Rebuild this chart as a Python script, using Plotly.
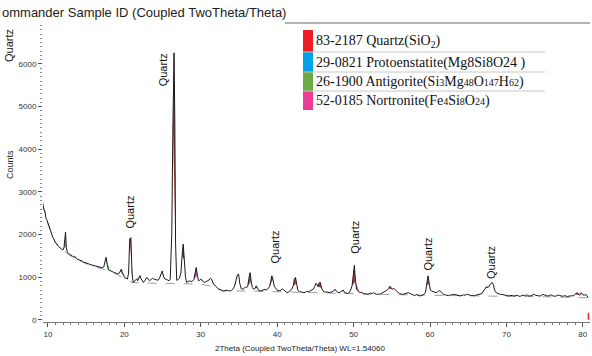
import plotly.graph_objects as go

# ---------------- data ----------------
two_theta = [
    9.3, 9.45, 9.6, 9.75, 9.9, 10.05, 10.2, 10.35, 10.5, 10.65, 10.8, 10.95, 11.1, 11.25, 11.4, 11.6, 11.8, 11.95,
    12.1, 12.2, 12.3, 12.4, 12.55, 12.7, 12.85, 13.0, 13.2, 13.4, 13.55, 13.7, 13.9, 14.1, 14.3, 14.5, 14.7, 14.9,
    15.1, 15.3, 15.5, 15.7, 15.9, 16.1, 16.3, 16.5, 16.7, 16.9, 17.1, 17.3, 17.45, 17.6, 17.75, 17.9, 18.1, 18.3,
    18.5, 18.7, 18.9, 19.1, 19.3, 19.45, 19.6, 19.75, 19.9, 20.05, 20.2, 20.4, 20.55, 20.7, 20.85, 21.0, 21.15, 21.3,
    21.45, 21.6, 21.75, 21.9, 22.05, 22.2, 22.35, 22.5, 22.65, 22.8, 22.95, 23.1, 23.3, 23.5, 23.7, 23.85, 24.0, 24.2,
    24.4, 24.6, 24.8, 24.95, 25.1, 25.3, 25.5, 25.7, 25.85, 26.0, 26.2, 26.35, 26.5, 26.6, 26.7, 26.85, 27.0, 27.2,
    27.4, 27.55, 27.7, 27.85, 28.0, 28.15, 28.3, 28.5, 28.7, 28.9, 29.1, 29.25, 29.4, 29.55, 29.7, 29.85, 30.0, 30.15,
    30.3, 30.5, 30.7, 30.9, 31.1, 31.25, 31.4, 31.55, 31.7, 31.85, 32.0, 32.2, 32.4, 32.6, 32.8, 33.0, 33.2, 33.4,
    33.6, 33.8, 34.0, 34.2, 34.4, 34.6, 34.8, 34.95, 35.1, 35.3, 35.5, 35.7, 35.85, 36.0, 36.15, 36.3, 36.45, 36.6,
    36.75, 36.9, 37.1, 37.25, 37.4, 37.6, 37.8, 38.0, 38.2, 38.4, 38.6, 38.8, 39.0, 39.15, 39.3, 39.45, 39.6, 39.75,
    39.9, 40.1, 40.3, 40.5, 40.7, 40.9, 41.1, 41.3, 41.5, 41.7, 41.9, 42.1, 42.25, 42.4, 42.55, 42.7, 42.9, 43.1,
    43.3, 43.5, 43.7, 43.9, 44.1, 44.3, 44.5, 44.7, 44.9, 45.05, 45.2, 45.35, 45.5, 45.65, 45.8, 46.0, 46.2, 46.4,
    46.6, 46.8, 47.0, 47.2, 47.4, 47.55, 47.7, 47.9, 48.1, 48.3, 48.5, 48.65, 48.8, 49.0, 49.2, 49.4, 49.6, 49.8,
    49.95, 50.1, 50.25, 50.4, 50.6, 50.8, 51.0, 51.2, 51.4, 51.6, 51.8, 52.0, 52.2, 52.4, 52.6, 52.8, 53.0, 53.2,
    53.4, 53.6, 53.8, 54.0, 54.2, 54.4, 54.6, 54.75, 54.9, 55.05, 55.2, 55.4, 55.6, 55.8, 56.0, 56.2, 56.4, 56.6,
    56.8, 57.0, 57.2, 57.4, 57.6, 57.8, 58.0, 58.2, 58.4, 58.6, 58.8, 59.0, 59.2, 59.4, 59.55, 59.75, 59.9, 60.05,
    60.2, 60.4, 60.6, 60.8, 61.0, 61.2, 61.4, 61.6, 61.8, 62.0, 62.2, 62.4, 62.6, 62.8, 63.0, 63.2, 63.4, 63.6,
    63.8, 64.0, 64.2, 64.4, 64.6, 64.8, 65.0, 65.2, 65.4, 65.6, 65.8, 66.0, 66.2, 66.4, 66.6, 66.8, 67.0, 67.2,
    67.4, 67.6, 67.8, 68.0, 68.15, 68.3, 68.45, 68.6, 68.8, 69.0, 69.2, 69.4, 69.6, 69.8, 70.0, 70.2, 70.4, 70.6,
    70.8, 71.0, 71.2, 71.4, 71.6, 71.8, 72.0, 72.2, 72.4, 72.6, 72.8, 73.0, 73.2, 73.4, 73.6, 73.8, 74.0, 74.2,
    74.4, 74.6, 74.8, 75.0, 75.2, 75.4, 75.6, 75.8, 76.0, 76.2, 76.4, 76.6, 76.8, 77.0, 77.2, 77.4, 77.6, 77.8,
    78.0, 78.2, 78.4, 78.6, 78.8, 79.0, 79.2, 79.4, 79.6, 79.8, 80.0, 80.2, 80.4, 80.7,
]
counts = [
    2750, 2600, 2550, 2380, 2330, 2250, 2180, 2060, 2010, 1930, 1890, 1820, 1800, 1740, 1720, 1690, 1650, 1640,
    1700, 1980, 2060, 1700, 1580, 1560, 1540, 1520, 1500, 1470, 1490, 1440, 1420, 1410, 1390, 1380, 1350, 1345,
    1330, 1320, 1300, 1290, 1280, 1270, 1255, 1250, 1230, 1220, 1225, 1240, 1340, 1470, 1300, 1180, 1160, 1140,
    1120, 1110, 1100, 1080, 1090, 1150, 1190, 1110, 1030, 990, 980, 960, 1100, 1900, 1930, 1100, 880, 900,
    930, 960, 920, 990, 1040, 960, 900, 880, 920, 980, 1000, 960, 920, 950, 980, 960, 950, 955,
    930, 980, 1060, 1150, 1030, 960, 950, 930, 920, 960, 2000, 4500, 6260, 4700, 1800, 930, 940, 980,
    1100, 1500, 1780, 1400, 1000, 880, 900, 920, 900, 910, 950, 1100, 1230, 1050, 920, 930, 955, 940,
    900, 880, 910, 920, 940, 980, 960, 870, 830, 815, 780, 740, 720, 700, 690, 680, 690, 700,
    690, 680, 690, 720, 780, 900, 1060, 1075, 860, 730, 720, 750, 770, 760, 800, 980, 1110, 900,
    760, 720, 740, 800, 760, 690, 680, 700, 710, 720, 700, 730, 780, 900, 1035, 950, 800, 760,
    720, 680, 690, 700, 730, 700, 660, 640, 660, 690, 720, 800, 960, 995, 850, 700, 670, 660,
    650, 640, 650, 670, 660, 680, 690, 720, 780, 860, 840, 780, 870, 880, 750, 680, 660, 650,
    660, 640, 650, 660, 690, 720, 690, 650, 640, 660, 690, 700, 650, 630, 620, 640, 700, 800,
    1100, 1280, 900, 720, 680, 640, 650, 620, 610, 620, 600, 610, 630, 620, 640, 620, 600, 610,
    600, 620, 640, 650, 680, 700, 740, 790, 760, 720, 740, 720, 680, 640, 620, 610, 600, 610,
    620, 630, 640, 620, 600, 580, 570, 600, 580, 570, 565, 580, 600, 640, 800, 1035, 850, 700,
    680, 660, 650, 640, 660, 690, 670, 620, 600, 590, 580, 570, 580, 590, 585, 600, 590, 575,
    570, 565, 575, 590, 580, 600, 595, 580, 570, 575, 565, 580, 590, 600, 610, 620, 680, 740,
    780, 760, 820, 860, 880, 830, 700, 650, 630, 610, 600, 600, 590, 580, 575, 565, 570, 580,
    575, 560, 570, 580, 560, 555, 570, 580, 570, 590, 575, 560, 570, 590, 600, 580, 570, 575,
    560, 580, 600, 585, 570, 560, 575, 590, 570, 560, 555, 570, 585, 570, 560, 555, 570, 560,
    550, 560, 565, 555, 570, 600, 640, 620, 580, 640, 590, 580, 600, 525,
]

background_theta = [9.3, 10, 11, 12, 13, 14, 15, 16, 17, 18, 19, 20, 21, 22, 24, 26, 28, 30, 31.5, 33, 36, 40, 45, 50, 55, 60, 65, 70, 75, 80.7]
background_counts = [2720, 2240, 1790, 1620, 1500, 1400, 1320, 1260, 1210, 1140, 1070, 980, 880, 870, 860, 850, 850, 840, 790, 680, 680, 660, 640, 615, 595, 580, 560, 555, 545, 520]

# phase identifications (peak centres, 2Theta)
quartz_peaks = [19.6, 20.85, 25.1, 26.5, 36.4, 39.3, 40.2, 42.4, 45.6, 50.0, 54.8, 59.7, 63.9, 67.4, 67.9, 73.3, 79.3]
protoenstatite_peaks = [27.7, 37.25, 47.55]
antigorite_peaks = [12.25, 17.9, 21.8]
nontronite_peaks = [29.4, 30.9, 34.4, 48.6, 50.5]

quartz_labels_x = [20.75, 25.1, 39.7, 50.2, 59.7, 68.0]
quartz_labels_y = [2520, 5860, 1720, 1930, 1550, 1340]

legend_entries = [
    "83-2187 Quartz(SiO<sub>2</sub>)",
    "29-0821 Protoenstatite(Mg8Si8O24 )",
    "26-1900 Antigorite(Si<span style='font-size:10px'>3</span>Mg<span style='font-size:10px'>48</span>O<span style='font-size:10px'>147</span>H<span style='font-size:10px'>62</span>)",
    "52-0185 Nortronite(Fe<span style='font-size:10px'>4</span>Si<span style='font-size:10px'>8</span>O<span style='font-size:10px'>24</span>)",
]
legend_colors = ["#ee1c24", "#00a2e8", "#6aab45", "#ee3b96"]
plot_colors = ["rgba(190,30,35,0.85)", "rgba(40,40,170,0.85)", "rgba(90,190,90,0.85)", "rgba(200,50,200,0.85)"]

# ---------------- figure ----------------
L, R, T, B = 43, 2, 22, 34
W, H = 592, 356
PW, PH = W - L - R, H - T - B


def px(x):
    return (x - L) / PW


def py(y):
    return (H - B - y) / PH


fig = go.Figure()

# background (dashed)
fig.add_trace(go.Scatter(x=background_theta, y=background_counts, mode="lines",
                         line=dict(color="#a0a0a0", width=1, dash="dash"), hoverinfo="skip"))

# phase fills under identified peaks
half_width = 0.3
for peaks, col in zip([quartz_peaks, protoenstatite_peaks, antigorite_peaks, nontronite_peaks], plot_colors):
    for c in peaks:
        xs = [t for t in two_theta if abs(t - c) <= half_width]
        ys = [v for t, v in zip(two_theta, counts) if abs(t - c) <= half_width]
        fig.add_trace(go.Scatter(x=xs, y=ys, mode="lines", fill="toself", fillcolor=col,
                                 line=dict(width=0), hoverinfo="skip"))

# measured pattern
fig.add_trace(go.Scatter(x=two_theta, y=counts, mode="lines",
                         line=dict(color="#1a1a1a", width=1)))

# small quartz stick at the right end
fig.add_trace(go.Bar(x=[80.75], y=[170], width=0.25, marker_color="#e0201c", hoverinfo="skip"))

for xq, yq in zip(quartz_labels_x, quartz_labels_y):
    fig.add_annotation(x=xq, y=yq, xref="x", yref="y", text="Quartz", textangle=-90,
                       showarrow=False, font=dict(family="Liberation Sans", size=11, color="#111"))

# legend table
rows_top = [30, 52, 72, 91, 110]
for i, (txt, col) in enumerate(zip(legend_entries, legend_colors)):
    y0, y1 = rows_top[i], rows_top[i + 1]
    fig.add_shape(type="rect", xref="paper", yref="paper", x0=px(303), x1=px(313),
                  y0=py(y1), y1=py(y0), fillcolor=col, line=dict(width=0), layer="above")
    fig.add_annotation(x=px(314), y=py((y0 + y1) / 2 + 0.5), xref="paper", yref="paper", text=txt,
                       xanchor="left", yanchor="middle", showarrow=False,
                       font=dict(family="Liberation Serif", size=14, color="#111"))
    if i > 0:
        fig.add_shape(type="line", xref="paper", yref="paper", x0=px(303), x1=px(545),
                      y0=py(y0), y1=py(y0), line=dict(color="#c8c8c8", width=1))

# top frame line
fig.add_shape(type="line", xref="paper", yref="paper", x0=px(285), x1=1.0, y0=py(23), y1=py(23),
              line=dict(color="#9a9a9a", width=1.5))

fig.add_annotation(x=px(0), y=py(13), xref="paper", yref="paper",
                   text="ommander Sample ID (Coupled TwoTheta/Theta)", xanchor="left", yanchor="middle",
                   showarrow=False, font=dict(family="Liberation Sans", size=13, color="#222"))
fig.add_annotation(x=px(9), y=py(46), xref="paper", yref="paper", text="Quartz", textangle=-90,
                   xanchor="center", yanchor="middle",
                   showarrow=False, font=dict(family="Liberation Sans", size=11, color="#111"))
fig.add_annotation(x=px(10), y=py(165), xref="paper", yref="paper", text="Counts", textangle=-90,
                   xanchor="center", yanchor="middle",
                   showarrow=False, font=dict(family="Liberation Sans", size=9, color="#222"))
fig.add_annotation(x=px(300), y=py(348), xref="paper", yref="paper",
                   text="2Theta (Coupled TwoTheta/Theta) WL=1.54060", xanchor="center", yanchor="middle",
                   showarrow=False, font=dict(family="Liberation Sans", size=8, color="#222"))

fig.update_layout(
    width=W, height=H, margin=dict(l=L, r=R, t=T, b=B, autoexpand=False),
    paper_bgcolor="white", plot_bgcolor="white", showlegend=False,
    xaxis=dict(range=[9.35, 80.94], tickmode="array", tickvals=[10, 20, 30, 40, 50, 60, 70, 80],
               ticks="outside", ticklen=4, tickcolor="#555", showline=True, linecolor="#777",
               showgrid=False, zeroline=False, automargin=False,
               minor=dict(dtick=1, ticks="outside", ticklen=2, tickcolor="#777"),
               tickfont=dict(family="Liberation Sans", size=8, color="#333")),
    yaxis=dict(range=[-47, 6984], tickmode="array", tickvals=[0, 1000, 2000, 3000, 4000, 5000, 6000],
               ticks="outside", ticklen=4, tickcolor="#555", showline=False,
               showgrid=False, zeroline=False, automargin=False,
               minor=dict(dtick=100, ticks="outside", ticklen=2, tickcolor="#888"),
               tickfont=dict(family="Liberation Sans", size=8, color="#333")),
)

# the page's default body margin would offset the figure; remove it
fig.write_html("out.html", config={"displayModeBar": False},
               post_script="document.body.style.margin='0';document.body.style.overflow='hidden';")
